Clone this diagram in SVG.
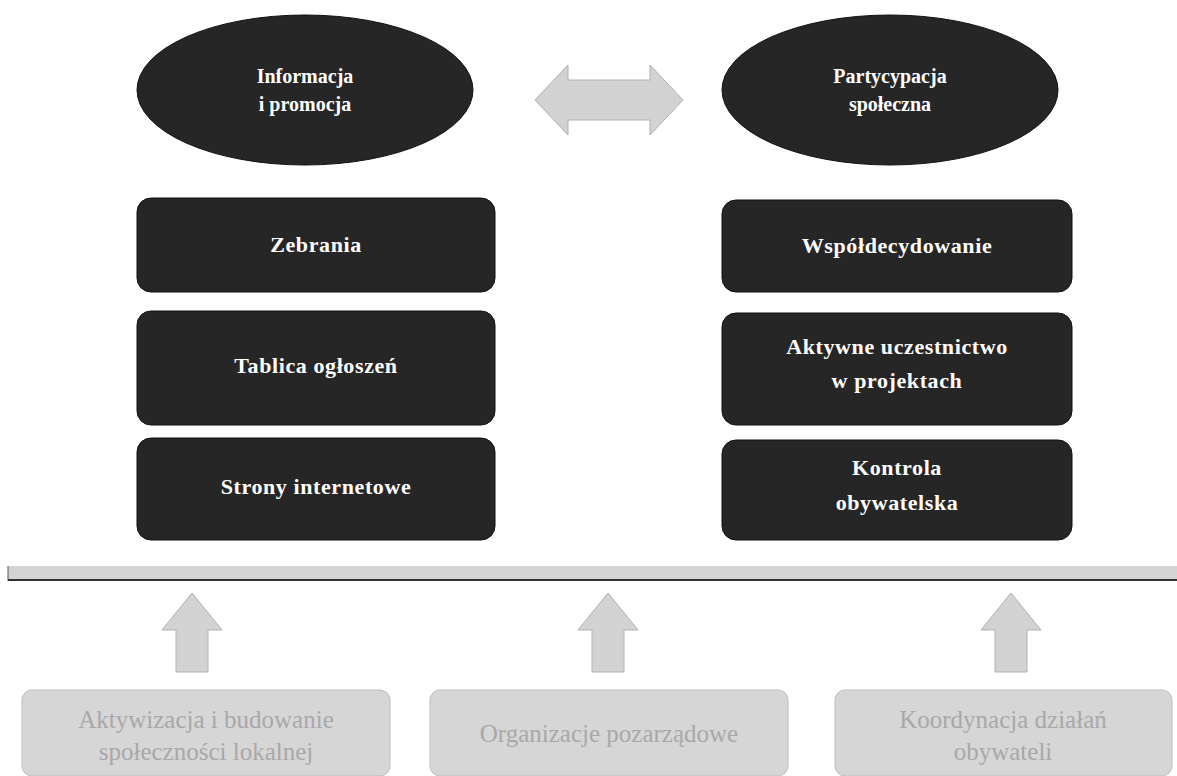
<svg xmlns="http://www.w3.org/2000/svg" width="1177" height="776" viewBox="0 0 1177 776">
<defs>
<style>
.dark{fill:#262626;stroke:#111;stroke-width:1}
.wt{fill:#ffffff;font-family:"Liberation Serif",serif;font-weight:bold;font-size:22px;text-anchor:middle;letter-spacing:0.6px}
.we{fill:#ffffff;font-family:"Liberation Serif",serif;font-weight:bold;font-size:20px;text-anchor:middle}
.light{fill:#d6d6d6;stroke:#bdbdbd;stroke-width:1}
.lt{fill:#a8a8a8;font-family:"Liberation Serif",serif;font-size:25px;text-anchor:middle}
.arrow{fill:#d2d2d2;stroke:#b0b0b0;stroke-width:1}
</style>
</defs>
<rect width="1177" height="776" fill="#ffffff"/>

<g id="node-info">
<ellipse class="dark" cx="305" cy="90" rx="168" ry="75"/>
<text class="we" x="305" y="83">Informacja</text>
<text class="we" x="305" y="111">i promocja</text>
</g>
<g id="node-partycypacja">
<ellipse class="dark" cx="890" cy="90" rx="168" ry="75"/>
<text class="we" x="890" y="83">Partycypacja</text>
<text class="we" x="890" y="111">społeczna</text>
</g>

<g id="node-zebrania">
<rect class="dark" x="137" y="198" width="358" height="94" rx="14"/>
<text class="wt" x="316" y="252">Zebrania</text>
</g>
<g id="node-tablica">
<rect class="dark" x="137" y="311" width="358" height="114" rx="14"/>
<text class="wt" x="316" y="373">Tablica ogłoszeń</text>
</g>
<g id="node-strony">
<rect class="dark" x="137" y="438" width="358" height="102" rx="14"/>
<text class="wt" x="316" y="494">Strony internetowe</text>
</g>

<g id="node-wspoldecydowanie">
<rect class="dark" x="722" y="200" width="350" height="92" rx="14"/>
<text class="wt" x="897" y="253">Współdecydowanie</text>
</g>
<g id="node-aktywne">
<rect class="dark" x="722" y="313" width="350" height="112" rx="14"/>
<text class="wt" x="897" y="354">Aktywne uczestnictwo</text>
<text class="wt" x="897" y="388">w projektach</text>
</g>
<g id="node-kontrola">
<rect class="dark" x="722" y="440" width="350" height="100" rx="14"/>
<text class="wt" x="897" y="475">Kontrola</text>
<text class="wt" x="897" y="510">obywatelska</text>
</g>

<g id="node-bar">
<rect x="8" y="566" width="1169" height="15" fill="#d4d4d4"/>
<line x1="8" y1="566" x2="8" y2="581" stroke="#555" stroke-width="1"/>
<line x1="8" y1="580" x2="1177" y2="580" stroke="#333" stroke-width="2"/>
</g>

<g id="connectors">
<path class="arrow" d="M535,100 L568,65 L568,80 L650,80 L650,65 L683,100 L650,135 L650,120 L568,120 L568,135 Z"/>
<path class="arrow" d="M192,593 L222,630 L208,630 L208,672 L176,672 L176,630 L162,630 Z"/>
<path class="arrow" d="M608,593 L638,630 L624,630 L624,672 L592,672 L592,630 L578,630 Z"/>
<path class="arrow" d="M1011,593 L1041,630 L1027,630 L1027,672 L995,672 L995,630 L981,630 Z"/>
</g>

<g id="node-aktywizacja">
<rect class="light" x="22" y="690" width="368" height="86" rx="10"/>
<text class="lt" x="206" y="728">Aktywizacja i budowanie</text>
<text class="lt" x="206" y="760">społeczności lokalnej</text>
</g>
<g id="node-organizacje">
<rect class="light" x="430" y="690" width="358" height="86" rx="10"/>
<text class="lt" x="609" y="742">Organizacje pozarządowe</text>
</g>
<g id="node-koordynacja">
<rect class="light" x="835" y="690" width="337" height="86" rx="10"/>
<text class="lt" x="1003" y="728">Koordynacja działań</text>
<text class="lt" x="1003" y="760">obywateli</text>
</g>
</svg>
